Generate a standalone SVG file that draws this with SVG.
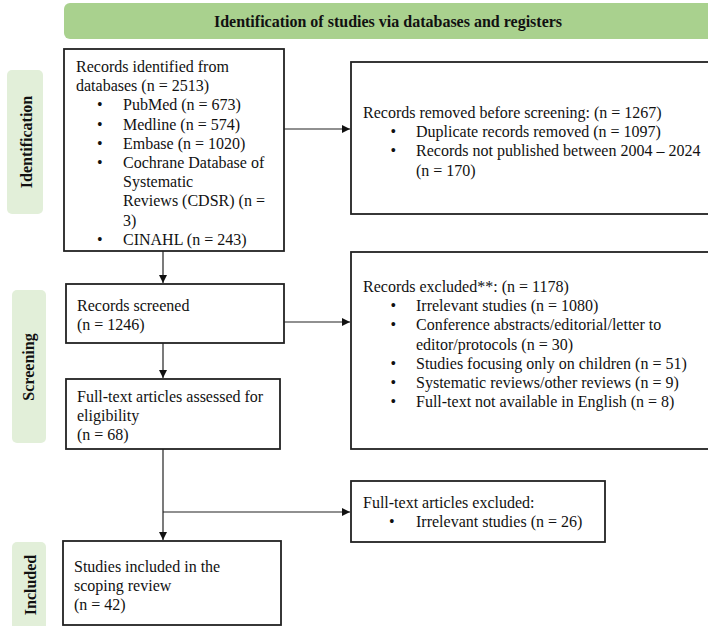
<svg xmlns="http://www.w3.org/2000/svg" width="708" height="626" viewBox="0 0 708 626">
<style>
text{font-family:"Liberation Serif","Times New Roman",serif;font-size:16px;fill:#111}
.hd{font-weight:bold;font-size:16px}
.side{font-weight:bold;font-size:16px;text-anchor:middle;dominant-baseline:central}
.box{fill:#fff;stroke:#222;stroke-width:1.8}
.lbl{fill:#e2efd9}
.con{stroke:#222;stroke-width:1.2;fill:none}
</style>
<defs>
<marker id="ah" viewBox="0 0 10 10" refX="10" refY="5" markerWidth="8" markerHeight="8" markerUnits="userSpaceOnUse" orient="auto">
<path d="M0,0 L10,5 L0,10 z" fill="#111"/>
</marker>
</defs>
<g id="header">
<rect x="64" y="3" width="660" height="36" rx="6" fill="#a9d18e"/>
<text class="hd" x="388" y="27" text-anchor="middle">Identification of studies via databases and registers</text>
</g>
<g id="label-identification">
<rect class="lbl" x="7" y="70" width="36" height="144" rx="5"/>
<text class="side" transform="translate(26,142) rotate(-90)">Identification</text>
</g>
<g id="label-screening">
<rect class="lbl" x="12" y="290" width="34" height="153" rx="5"/>
<text class="side" transform="translate(28.5,367) rotate(-90)">Screening</text>
</g>
<g id="label-included">
<rect class="lbl" x="12" y="542" width="34" height="100" rx="5"/>
<text class="side" transform="translate(30,585) rotate(-90)">Included</text>
</g>
<g id="records-identified">
<rect class="box" x="64" y="49" width="220" height="202"/>
<text x="76" y="72">Records identified from</text>
<text x="76" y="91.2">databases (n = 2513)</text>
<text x="97" y="110.4">•</text><text x="123" y="110.4">PubMed (n = 673)</text>
<text x="97" y="129.6">•</text><text x="123" y="129.6">Medline (n = 574)</text>
<text x="97" y="148.8">•</text><text x="123" y="148.8">Embase (n = 1020)</text>
<text x="97" y="168">•</text><text x="123" y="168">Cochrane Database of</text>
<text x="123" y="187.2">Systematic</text>
<text x="123" y="206.4">Reviews (CDSR) (n =</text>
<text x="123" y="225.6">3)</text>
<text x="97" y="244.8">•</text><text x="123" y="244.8">CINAHL (n = 243)</text>
</g>
<g id="records-removed">
<rect class="box" x="351" y="62" width="370" height="152"/>
<text x="363" y="118">Records removed before screening: (n = 1267)</text>
<text x="390.5" y="137.2">•</text><text x="416" y="137.2">Duplicate records removed (n = 1097)</text>
<text x="390.5" y="156.4">•</text><text x="416" y="156.4">Records not published between 2004 – 2024</text>
<text x="416" y="175.6">(n = 170)</text>
</g>
<g id="records-screened">
<rect class="box" x="66" y="284" width="218" height="59"/>
<text x="77" y="311">Records screened</text>
<text x="77" y="330">(n = 1246)</text>
</g>
<g id="records-excluded">
<rect class="box" x="351" y="252" width="370" height="197"/>
<text x="363" y="292">Records excluded**: (n = 1178)</text>
<text x="390.5" y="311.2">•</text><text x="416" y="311.2">Irrelevant studies (n = 1080)</text>
<text x="390.5" y="330.4">•</text><text x="416" y="330.4">Conference abstracts/editorial/letter to</text>
<text x="416" y="349.6">editor/protocols (n = 30)</text>
<text x="390.5" y="368.8">•</text><text x="416" y="368.8">Studies focusing only on children (n = 51)</text>
<text x="390.5" y="388">•</text><text x="416" y="388">Systematic reviews/other reviews (n = 9)</text>
<text x="390.5" y="407.2">•</text><text x="416" y="407.2">Full-text not available in English (n = 8)</text>
</g>
<g id="fulltext-assessed">
<rect class="box" x="66" y="379" width="214" height="70"/>
<text x="77" y="402">Full-text articles assessed for</text>
<text x="77" y="421">eligibility</text>
<text x="77" y="440">(n = 68)</text>
</g>
<g id="fulltext-excluded">
<rect class="box" x="351" y="481" width="254" height="61"/>
<text x="363" y="508">Full-text articles excluded:</text>
<text x="389" y="527">•</text><text x="416" y="527">Irrelevant studies (n = 26)</text>
</g>
<g id="studies-included">
<rect class="box" x="63" y="541" width="218" height="84"/>
<text x="74" y="572">Studies included in the</text>
<text x="74" y="591">scoping review</text>
<text x="74" y="610">(n = 42)</text>
</g>
<g id="connectors">
<line class="con" x1="284" y1="129" x2="350" y2="129" marker-end="url(#ah)"/>
<line class="con" x1="163" y1="251" x2="163" y2="283" marker-end="url(#ah)"/>
<line class="con" x1="284" y1="322" x2="350" y2="322" marker-end="url(#ah)"/>
<line class="con" x1="163" y1="343" x2="163" y2="378" marker-end="url(#ah)"/>
<line class="con" x1="163" y1="449" x2="163" y2="540" marker-end="url(#ah)"/>
<line class="con" x1="163" y1="512" x2="350" y2="512" marker-end="url(#ah)"/>
</g>
</svg>
